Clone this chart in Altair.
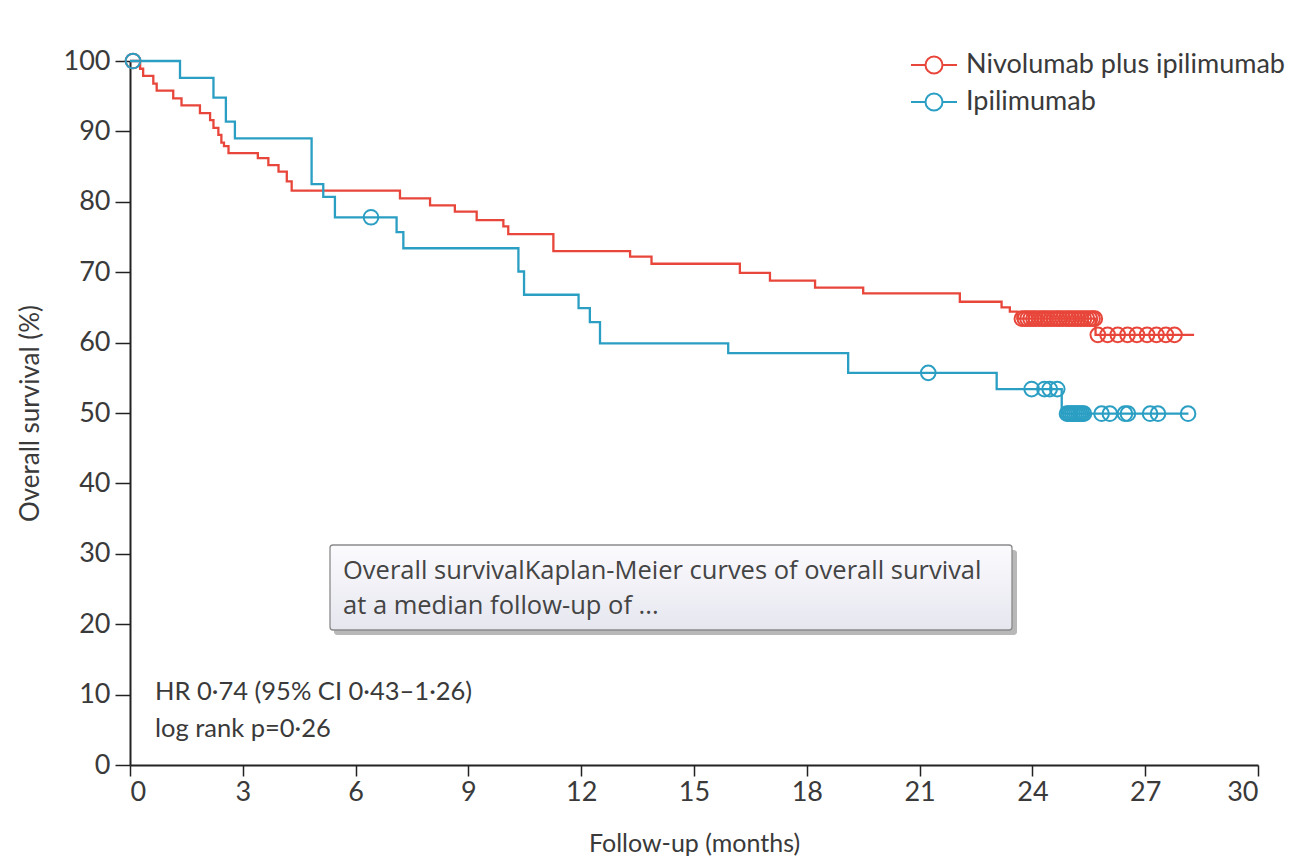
import altair as alt
import pandas as pd

series_names = ["Nivolumab plus ipilimumab", "Ipilimumab"]
series_colors = ["#e8463a", "#2b9fc3"]

# Step curve: time of each drop (months) and survival (%) after the drop
nivo_times = [0, 0.27, 0.35, 0.62, 0.71, 1.15, 1.37, 1.86, 2.13, 2.22, 2.35, 2.43, 2.50, 2.62,
              3.40, 3.68, 3.95, 4.17, 4.30, 7.18, 7.98, 8.64, 9.22, 9.93, 10.06, 11.26,
              13.30, 13.87, 16.22, 17.02, 18.22, 19.50, 22.07, 23.18, 23.40, 23.60, 25.68]
nivo_surv = [100, 98.9, 97.9, 96.8, 95.8, 94.7, 93.7, 92.6, 91.6, 90.5, 89.5, 88.4, 87.9, 86.9,
             86.2, 85.2, 84.3, 82.9, 81.6, 80.5, 79.5, 78.6, 77.4, 76.5, 75.4, 73.0,
             72.2, 71.2, 69.9, 68.8, 67.8, 67.0, 65.8, 65.0, 64.4, 63.4, 61.1]
nivo_end = 28.3

ipi_times = [0, 1.33, 2.22, 2.55, 2.79, 4.83, 5.14, 5.45, 7.09, 7.27, 10.33, 10.48, 11.93,
             12.23, 12.50, 15.91, 19.10, 23.05, 24.78]
ipi_surv = [100, 97.6, 94.8, 91.4, 89.0, 82.5, 80.7, 77.8, 75.7, 73.4, 70.1, 66.8, 64.9,
            62.9, 59.9, 58.5, 55.7, 53.4, 49.9]
ipi_end = 28.15

# Censoring marks (months)
nivo_censor = [0.08, 23.72, 23.80, 23.87, 23.95, 24.03, 24.10, 24.19, 24.27, 24.34, 24.42, 24.50,
               24.58, 24.66, 24.73, 24.81, 24.90, 24.97, 25.05, 25.13, 25.21, 25.29, 25.37,
               25.45, 25.53, 25.60, 25.66,
               25.74, 26.00, 26.27, 26.53, 26.78, 27.05, 27.30, 27.55, 27.78]
ipi_censor = [0.08, 6.41, 21.23, 23.98, 24.32, 24.46, 24.66,
              24.92, 24.97, 25.02, 25.07, 25.12, 25.17, 25.22, 25.27, 25.32, 25.37,
              25.84, 26.06, 26.46, 26.54, 27.13, 27.34, 28.14]

annot_lines = ["HR 0·74 (95% CI 0·43–1·26)", "log rank p=0·26"]
box_lines = ["Overall survivalKaplan-Meier curves of overall survival", "at a median follow-up of ..."]


def level_at(times, surv, t):
    val = surv[0]
    for ti, si in zip(times, surv):
        if ti <= t:
            val = si
    return val


line_rows = []
for name, times, surv, end in [(series_names[0], nivo_times, nivo_surv, nivo_end),
                               (series_names[1], ipi_times, ipi_surv, ipi_end)]:
    for i, (t, s) in enumerate(zip(times, surv)):
        line_rows.append({"series": name, "t": t, "s": s, "o": i})
    line_rows.append({"series": name, "t": end, "s": surv[-1], "o": len(times)})
lines_df = pd.DataFrame(line_rows)

cens_rows = []
for name, times, surv, cens in [(series_names[0], nivo_times, nivo_surv, nivo_censor),
                                (series_names[1], ipi_times, ipi_surv, ipi_censor)]:
    for c in cens:
        cens_rows.append({"series": name, "t": c, "s": level_at(times, surv, c)})
cens_df = pd.DataFrame(cens_rows)

FONT = "Lato"
TXT = "#3a3a3a"

legend_symbol = ("M-1,0L-0.37,0M0.37,0L1,0"
                 "M-0.37,0A0.37,0.37,0,1,1,0.37,0A0.37,0.37,0,1,1,-0.37,0Z")

color_scale = alt.Scale(domain=series_names, range=series_colors)
legend = alt.Legend(title=None, orient="none", legendX=780, legendY=-20,
                    symbolType=legend_symbol, symbolSize=2116, symbolStrokeWidth=2,
                    symbolFillColor="transparent", labelLimit=0,
                    labelFont=FONT, labelFontSize=27, labelColor=TXT, labelOffset=8,
                    rowPadding=-6)

x_enc = alt.X("t:Q", scale=alt.Scale(domain=[0, 30], nice=False),
              axis=alt.Axis(title="Follow-up (months)", values=list(range(0, 31, 3)),
                            titlePadding=26, titleFontSize=25, tickSize=11, labelPadding=3))
y_enc = alt.Y("s:Q", scale=alt.Scale(domain=[0, 100], nice=False),
              axis=alt.Axis(title="Overall survival (%)", values=list(range(0, 101, 10)),
                            titlePadding=20, tickSize=15, labelPadding=5))

lines = alt.Chart(lines_df).mark_line(interpolate="step-after", strokeWidth=2.3).encode(
    x=x_enc, y=y_enc,
    color=alt.Color("series:N", scale=color_scale, legend=legend),
    order="o:Q",
)

points = alt.Chart(cens_df).mark_point(filled=False, size=215, strokeWidth=2, opacity=1).encode(
    x="t:Q", y="s:Q",
    color=alt.Color("series:N", scale=color_scale, legend=legend),
)

annot_df = pd.DataFrame({"label": annot_lines, "row": [0, 1]})
annot = alt.Chart(annot_df).mark_text(align="left", baseline="middle", font=FONT,
                                      fontSize=25.5, color=TXT).encode(
    x=alt.value(25), y=alt.value(631), text="label:N",
).transform_filter("datum.row == 0")
annot2 = alt.Chart(annot_df).mark_text(align="left", baseline="middle", font=FONT,
                                       fontSize=25.5, color=TXT).encode(
    x=alt.value(25), y=alt.value(668), text="label:N",
).transform_filter("datum.row == 1")

box_df = pd.DataFrame({"label": box_lines, "row": [0, 1]})
shadow = alt.Chart(box_df).mark_rect(cornerRadius=3, color="#7d7d7d", opacity=0.55).encode(
    x=alt.value(204), x2=alt.value(887), y=alt.value(489), y2=alt.value(574),
).transform_filter("datum.row == 0")
box = alt.Chart(box_df).mark_rect(
    cornerRadius=3, stroke="#8a8a8a", strokeWidth=1.3,
    fill=alt.Gradient(gradient="linear", x1=0, y1=0, x2=0, y2=1,
                      stops=[alt.GradientStop(color="#fbfbfe", offset=0),
                             alt.GradientStop(color="#e6e6ef", offset=1)]),
).encode(
    x=alt.value(200), x2=alt.value(882), y=alt.value(484), y2=alt.value(569),
).transform_filter("datum.row == 0")
box_t1 = alt.Chart(box_df).mark_text(align="left", baseline="middle", font="Open Sans",
                                     fontSize=25.5, color="#444").encode(
    x=alt.value(213), y=alt.value(510), text="label:N",
).transform_filter("datum.row == 0")
box_t2 = alt.Chart(box_df).mark_text(align="left", baseline="middle", font="Open Sans",
                                     fontSize=25.5, color="#444").encode(
    x=alt.value(213), y=alt.value(545), text="label:N",
).transform_filter("datum.row == 1")

chart = alt.layer(lines, points, annot, annot2, shadow, box, box_t1, box_t2).properties(
    width=1128, height=704,
    autosize=alt.AutoSizeParams(type="none"),
    padding={"left": 122, "top": 53, "right": 30, "bottom": 97},
).configure_view(stroke=None).configure_axis(
    grid=False, domainColor="#222", domainWidth=2, tickColor="#222", tickWidth=1.5,
    labelFont=FONT, labelFontSize=27, labelColor=TXT,
    titleFont=FONT, titleFontSize=26, titleFontWeight="normal", titleColor=TXT,
)

chart.save("out.html", embed_options={"renderer": "svg", "actions": False})
